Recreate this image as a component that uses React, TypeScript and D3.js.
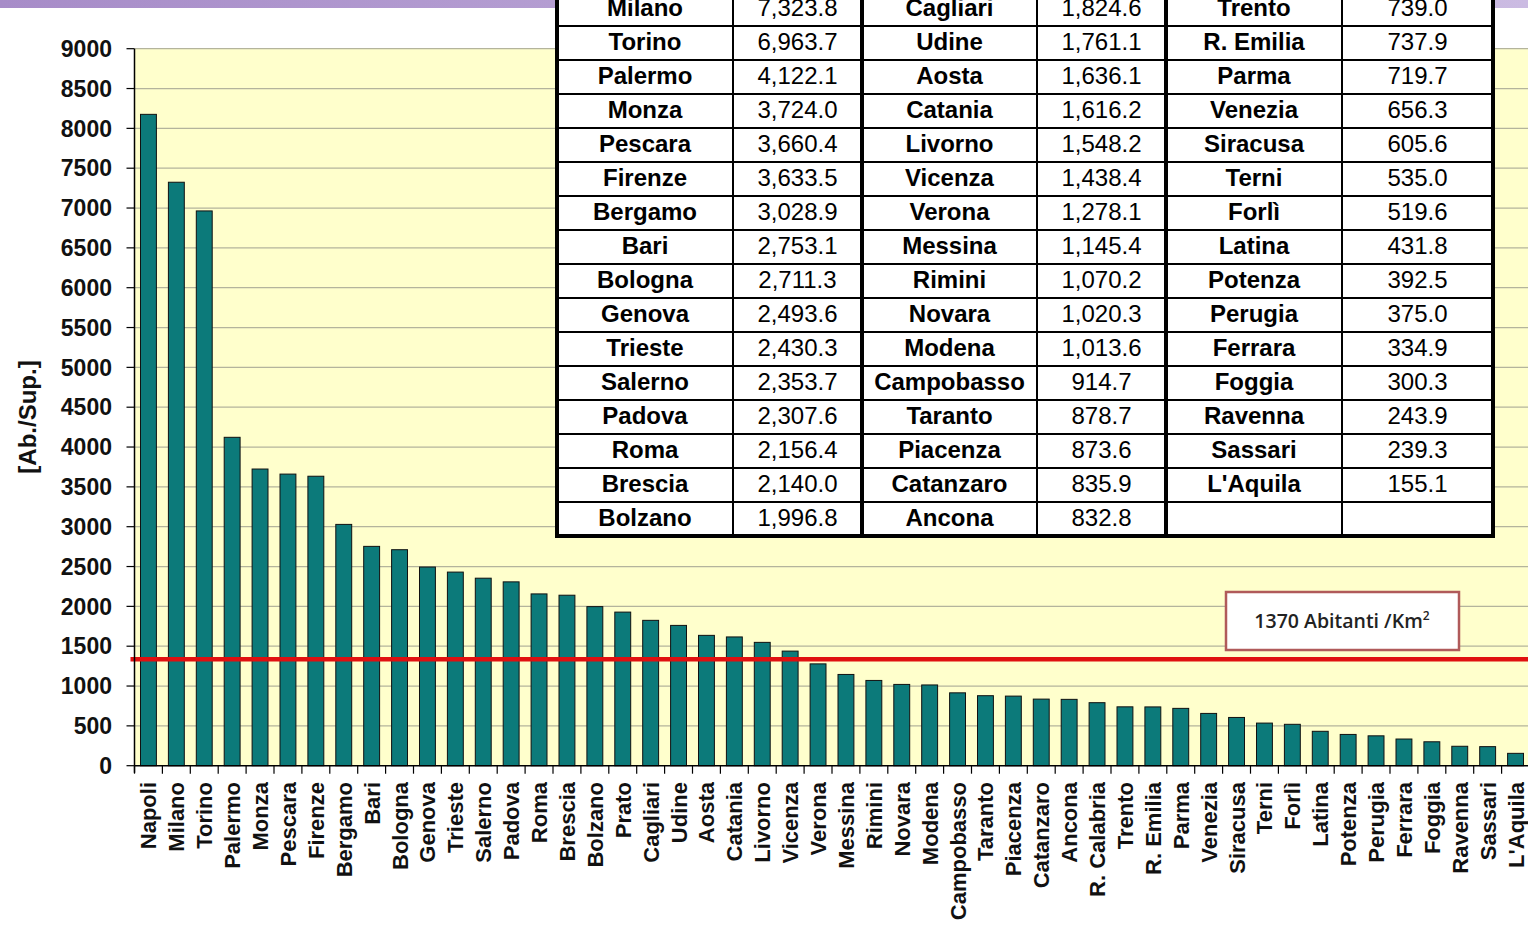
import { useEffect, useRef } from "react";
import * as d3 from "d3";

// cities in chart order (density, descending)
const cities = [
  "Napoli", "Milano", "Torino", "Palermo", "Monza", "Pescara", "Firenze", "Bergamo", "Bari",
  "Bologna", "Genova", "Trieste", "Salerno", "Padova", "Roma", "Brescia", "Bolzano",
  "Prato", "Cagliari", "Udine", "Aosta", "Catania", "Livorno", "Vicenza", "Verona", "Messina",
  "Rimini", "Novara", "Modena", "Campobasso", "Taranto", "Piacenza", "Catanzaro", "Ancona",
  "R. Calabria", "Trento", "R. Emilia", "Parma", "Venezia", "Siracusa", "Terni", "Forlì",
  "Latina", "Potenza", "Perugia", "Ferrara", "Foggia", "Ravenna", "Sassari", "L'Aquila",
];

// inhabitants per km² (Napoli, Prato and R. Calabria)
const density = [
  8176.0, 7323.8, 6963.7, 4122.1, 3724.0, 3660.4, 3633.5, 3028.9, 2753.1,
  2711.3, 2493.6, 2430.3, 2353.7, 2307.6, 2156.4, 2140.0, 1996.8,
  1928.0, 1824.6, 1761.1, 1636.1, 1616.2, 1548.2, 1438.4, 1278.1, 1145.4,
  1070.2, 1020.3, 1013.6, 914.7, 878.7, 873.6, 835.9, 832.8,
  791.0, 739.0, 737.9, 719.7, 656.3, 605.6, 535.0, 519.6,
  431.8, 392.5, 375.0, 334.9, 300.3, 243.9, 239.3, 155.1,
];

const yTicks = [0, 500, 1000, 1500, 2000, 2500, 3000, 3500, 4000, 4500, 5000, 5500, 6000, 6500, 7000, 7500, 8000, 8500, 9000];

// reference line (drawn where it sits in the picture) and its label
const refLineValue = 1335;
const refLabel = "1370 Abitanti /Km";
const yTitle = "[Ab./Sup.]";

const FONT = "'Liberation Sans', Arial, sans-serif";

function App() {
  const svgRef = useRef<SVGSVGElement>(null);

  useEffect(() => {
    const svg = d3.select(svgRef.current);
    svg.selectAll("*").remove();

    const width = 1528;
    const plot = { left: 134.5, right: 1529.5, top: 48.7, bottom: 765.7 };

    const x = d3
      .scaleBand<string>()
      .domain(cities)
      .range([plot.left, plot.right])
      .paddingInner(0.43)
      .paddingOuter(0.215);

    const y = d3.scaleLinear().domain([0, 9000]).range([plot.bottom, plot.top]);

    // header band of the slide
    const defs = svg.append("defs");
    const grad = defs.append("linearGradient").attr("id", "hdr").attr("x1", "0").attr("x2", "1");
    grad.append("stop").attr("offset", "0").attr("stop-color", "#a78cc8");
    grad.append("stop").attr("offset", "1").attr("stop-color", "#cbbbe2");
    svg.append("rect").attr("x", 0).attr("y", 0).attr("width", width).attr("height", 8).attr("fill", "url(#hdr)");

    // plot background
    svg
      .append("rect")
      .attr("x", plot.left)
      .attr("y", plot.top)
      .attr("width", plot.right - plot.left)
      .attr("height", plot.bottom - plot.top)
      .attr("fill", "#ffffcc");

    // gridlines
    svg
      .append("g")
      .selectAll("line")
      .data(yTicks.filter((t) => t > 0))
      .join("line")
      .attr("x1", plot.left)
      .attr("x2", plot.right)
      .attr("y1", (d) => y(d))
      .attr("y2", (d) => y(d))
      .attr("stroke", "#b4b49c")
      .attr("stroke-width", 1.2);

    // bars
    svg
      .append("g")
      .selectAll("rect")
      .data(cities)
      .join("rect")
      .attr("x", (d) => x(d)!)
      .attr("y", (d, i) => y(density[i]))
      .attr("width", x.bandwidth())
      .attr("height", (d, i) => y(0) - y(density[i]))
      .attr("fill", "#0c7a7a")
      .attr("stroke", "#111")
      .attr("stroke-width", 1);

    // reference line
    svg
      .append("line")
      .attr("x1", plot.left - 4)
      .attr("x2", width)
      .attr("y1", y(refLineValue))
      .attr("y2", y(refLineValue))
      .attr("stroke", "#e01010")
      .attr("stroke-width", 4.5);

    // y axis
    const yAxis = svg.append("g");
    yAxis
      .append("line")
      .attr("x1", plot.left)
      .attr("x2", plot.left)
      .attr("y1", plot.top)
      .attr("y2", plot.bottom + 7)
      .attr("stroke", "#000")
      .attr("stroke-width", 1.5);
    yAxis
      .selectAll("line.tick")
      .data(yTicks)
      .join("line")
      .attr("class", "tick")
      .attr("x1", plot.left - 8)
      .attr("x2", plot.left)
      .attr("y1", (d) => y(d))
      .attr("y2", (d) => y(d))
      .attr("stroke", "#000")
      .attr("stroke-width", 1.2);
    yAxis
      .selectAll("text")
      .data(yTicks)
      .join("text")
      .attr("x", 112)
      .attr("y", (d) => y(d))
      .attr("dy", "0.36em")
      .attr("text-anchor", "end")
      .attr("font-family", FONT)
      .attr("font-weight", "bold")
      .attr("font-size", 23)
      .attr("fill", "#111")
      .text((d) => String(d));

    svg
      .append("text")
      .attr("transform", "translate(36,417) rotate(-90)")
      .attr("text-anchor", "middle")
      .attr("font-family", FONT)
      .attr("font-weight", "bold")
      .attr("font-size", 24)
      .attr("fill", "#111")
      .text(yTitle);

    // x axis
    const step = x.step();
    const gap = step - x.bandwidth();
    const bounds = cities.map((c) => x(c)! - gap / 2).concat([x(cities[cities.length - 1])! + x.bandwidth() + gap / 2]);
    const xAxis = svg.append("g");
    xAxis
      .append("line")
      .attr("x1", plot.left)
      .attr("x2", plot.right)
      .attr("y1", plot.bottom)
      .attr("y2", plot.bottom)
      .attr("stroke", "#000")
      .attr("stroke-width", 1.5);
    xAxis
      .selectAll("line.tick")
      .data(bounds)
      .join("line")
      .attr("class", "tick")
      .attr("x1", (d) => d)
      .attr("x2", (d) => d)
      .attr("y1", plot.bottom)
      .attr("y2", plot.bottom + 8)
      .attr("stroke", "#000")
      .attr("stroke-width", 1.2);
    xAxis
      .selectAll("text")
      .data(cities)
      .join("text")
      .attr("transform", (d) => `translate(${x(d)! + x.bandwidth() / 2 + 8},782) rotate(-90)`)
      .attr("text-anchor", "end")
      .attr("font-family", FONT)
      .attr("font-weight", "bold")
      .attr("font-size", 22)
      .attr("fill", "#111")
      .text((d) => d);

    // data table (its first row runs off the top of the slide)
    const colX = [557, 733, 862, 1037, 1166, 1342, 1493];
    const rowH = 34;
    const nRows = 17;
    const tBottom = 536;
    const tTop = tBottom - nRows * rowH;
    const fmt = d3.format(",.1f");
    const table = svg.append("g");
    table
      .append("rect")
      .attr("x", colX[0])
      .attr("y", tTop)
      .attr("width", colX[6] - colX[0])
      .attr("height", tBottom - tTop)
      .attr("fill", "#fff");

    for (let g = 0; g < 3; g++) {
      const names = cities.slice(g * nRows, g * nRows + nRows);
      const vals = density.slice(g * nRows, g * nRows + nRows);
      const nameX = (colX[2 * g] + colX[2 * g + 1]) / 2;
      const valX = (colX[2 * g + 1] + colX[2 * g + 2]) / 2;
      table
        .append("g")
        .selectAll("text")
        .data(names)
        .join("text")
        .attr("x", nameX)
        .attr("y", (d, i) => tTop + i * rowH + rowH / 2 - 2)
        .attr("dy", "0.36em")
        .attr("text-anchor", "middle")
        .attr("font-family", FONT)
        .attr("font-weight", "bold")
        .attr("font-size", 24)
        .attr("fill", "#000")
        .text((d) => d);
      table
        .append("g")
        .selectAll("text")
        .data(vals)
        .join("text")
        .attr("x", valX)
        .attr("y", (d, i) => tTop + i * rowH + rowH / 2 - 2)
        .attr("dy", "0.36em")
        .attr("text-anchor", "middle")
        .attr("font-family", FONT)
        .attr("font-size", 24)
        .attr("fill", "#000")
        .text((d) => fmt(d));
    }

    table
      .selectAll("line.row")
      .data(d3.range(1, nRows))
      .join("line")
      .attr("class", "row")
      .attr("x1", colX[0])
      .attr("x2", colX[6])
      .attr("y1", (d) => tTop + d * rowH)
      .attr("y2", (d) => tTop + d * rowH)
      .attr("stroke", "#000")
      .attr("stroke-width", 2);
    table
      .selectAll("line.col")
      .data([1, 2, 3, 4, 5])
      .join("line")
      .attr("class", "col")
      .attr("x1", (d) => colX[d])
      .attr("x2", (d) => colX[d])
      .attr("y1", tTop)
      .attr("y2", tBottom)
      .attr("stroke", "#000")
      .attr("stroke-width", (d) => (d % 2 === 0 ? 4 : 2));
    table
      .append("rect")
      .attr("x", colX[0])
      .attr("y", tTop)
      .attr("width", colX[6] - colX[0])
      .attr("height", tBottom - tTop)
      .attr("fill", "none")
      .attr("stroke", "#000")
      .attr("stroke-width", 4);

    // annotation box
    const note = svg.append("g");
    note
      .append("rect")
      .attr("x", 1226)
      .attr("y", 592)
      .attr("width", 233)
      .attr("height", 58)
      .attr("fill", "#fff")
      .attr("stroke", "#b05a5a")
      .attr("stroke-width", 2.5);
    const nt = note
      .append("text")
      .attr("x", 1342)
      .attr("y", 628)
      .attr("text-anchor", "middle")
      .attr("font-family", "'Open Sans', sans-serif")
      .attr("font-weight", 600)
      .attr("font-size", 19.5)
      .attr("fill", "#222");
    nt.append("tspan").text(refLabel);
    nt.append("tspan").attr("dy", -8).attr("font-size", 12).text("2");
  }, []);

  return (
    <svg
      ref={svgRef}
      width={1528}
      height={926}
      style={{ position: "absolute", left: 0, top: 0, background: "#fff" }}
    />
  );
}

export default App;
